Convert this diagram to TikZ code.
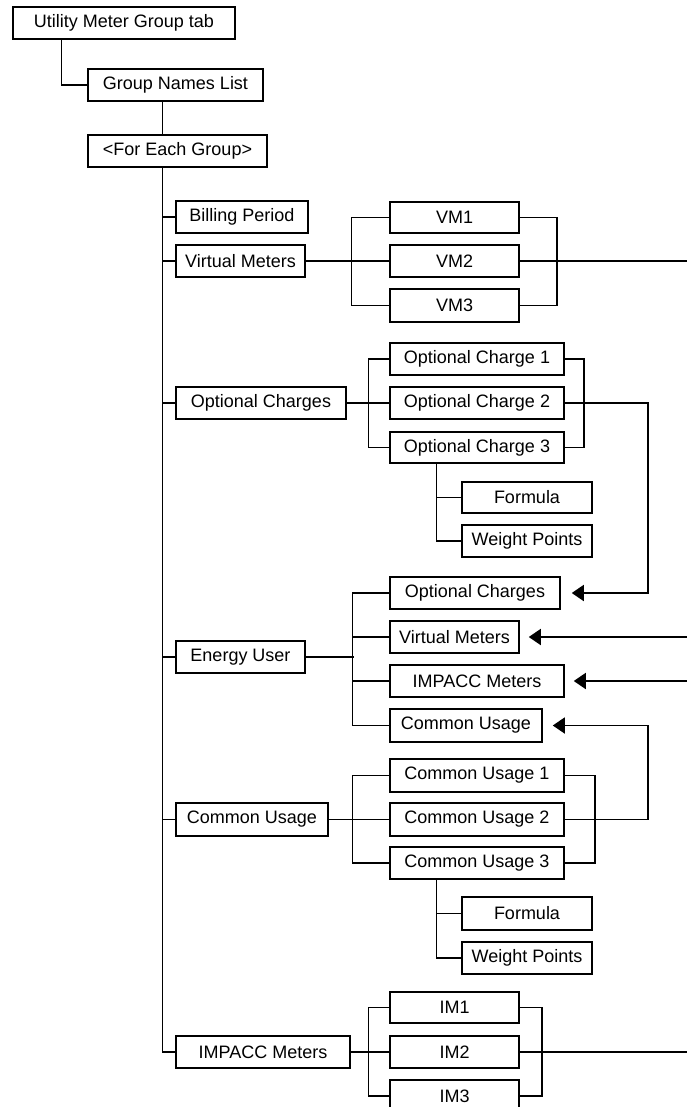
\documentclass[tikz,border=0pt]{standalone}
\usepackage{fontspec}
\setmainfont{Liberation Sans}
\usetikzlibrary{arrows.meta}
\newcommand\bx[6]{\node[box, minimum width={(#4-#2)*1pt}, minimum height={(#5-#3)*1pt}] (#1) at ({(#2+#4)/2},{(#3+#5)/2}) {#6};}
\begin{document}
\begin{tikzpicture}[x=1pt,y=-1pt,
  box/.style={draw, line width=1.5pt, inner sep=0pt, font=\fontsize{18}{21}\selectfont},
  conn/.style={line width=1.5pt},
  arr/.style={line width=1.5pt, -{Triangle[length=12pt,width=16pt]}}]
\useasboundingbox (0,0) rectangle (687,1107);
\clip (0,0) rectangle (687,1107);
\coordinate (edge) at (687,0);
% boxes
\bx{top}{13}{7}{235}{39}{Utility Meter Group tab}
\bx{gnl}{88}{69}{263}{101}{Group Names List}
\bx{feg}{88}{135}{267}{167}{<For Each Group>}
\bx{bp}{176}{201}{308}{233}{Billing Period}
\bx{vm}{176}{245}{305}{277}{Virtual Meters}
\bx{oc}{176}{387}{346}{419}{Optional Charges}
\bx{eu}{176}{641}{305}{673}{Energy User}
\bx{cu}{176}{803}{328}{836}{Common Usage}
\bx{imp}{176}{1036}{350}{1068}{IMPACC Meters}
\bx{vma}{390}{202}{519}{233}{VM1}
\bx{vmb}{390}{245}{519}{277}{VM2}
\bx{vmc}{390}{289}{519}{322}{VM3}
\bx{oca}{390}{343}{564}{375}{Optional Charge 1}
\bx{ocb}{390}{387}{564}{419}{Optional Charge 2}
\bx{occ}{390}{432}{564}{463}{Optional Charge 3}
\bx{fa}{462}{482}{592}{513}{Formula}
\bx{wa}{462}{525}{592}{557}{Weight Points}
\bx{euoc}{390}{577}{560}{609}{Optional Charges}
\bx{euvm}{390}{621}{519}{653}{Virtual Meters}
\bx{euim}{390}{665}{564}{697}{IMPACC Meters}
\bx{eucu}{390}{709}{542}{742}{Common Usage}
\bx{cua}{390}{759}{564}{792}{Common Usage 1}
\bx{cub}{390}{803}{564}{836}{Common Usage 2}
\bx{cuc}{390}{847}{564}{879}{Common Usage 3}
\bx{fb}{462}{897}{592}{930}{Formula}
\bx{wb}{462}{942}{592}{974}{Weight Points}
\bx{ima}{390}{992}{519}{1023}{IM1}
\bx{imb}{390}{1036}{519}{1068}{IM2}
\bx{imc}{390}{1080}{519}{1112}{IM3}
% top connectors
\draw[conn] ([xshift=49pt]top.south west) |- (gnl.west);
\draw[conn] ([xshift=75pt]gnl.south west) -- ([xshift=75pt]feg.north west);
\coordinate (tr) at ([xshift=75pt]feg.south west);
\draw[conn] (tr) |- (imp.west);
\foreach \n in {bp,vm,oc,eu,cu} \draw[conn] (tr |- \n.west) -- (\n.west);
% VM group
\draw[conn] (vm.east) -- (vmb.west);
\draw[conn] (vma.west) -- ++(-38,0) |- (vmc.west);
\draw[conn] (vma.east) -- ++(37,0) |- (vmc.east);
\draw[conn] (vmb.east) -- (vmb.east -| edge);
% OC group
\draw[conn] (oc.east) -- (ocb.west);
\draw[conn] (oca.west) -- ++(-21,0) |- (occ.west);
\draw[conn] (oca.east) -- ++(19,0) |- (occ.east);
\draw[conn] ([xshift=47pt]occ.south west) |- (wa.west);
\draw[conn] ([xshift=47pt]occ.south west |- fa.west) -- (fa.west);
\coordinate (ocx) at (648,0);
\draw[arr, shorten >=11pt] (ocb.east) -| (ocx |- euoc.east) -- (euoc.east);
% EU group
\draw[conn] (eu.east) -- ++(48,0);
\draw[conn] (euoc.west) -- ++(-37,0) |- (eucu.west);
\draw[conn] ([xshift=-37pt]euvm.west) -- (euvm.west);
\draw[conn] ([xshift=-37pt]euim.west) -- (euim.west);
\draw[arr, shorten >=9pt] (euvm.east -| edge) -- (euvm.east);
\draw[arr, shorten >=9pt] (euim.east -| edge) -- (euim.east);
% CU group
\draw[conn] (cu.east) -- (cub.west);
\draw[conn] (cua.west) -- ++(-37,0) |- (cuc.west);
\draw[conn] (cua.east) -- ++(30,0) |- (cuc.east);
\draw[conn] ([xshift=47pt]cuc.south west) |- (wb.west);
\draw[conn] ([xshift=47pt]cuc.south west |- fb.west) -- (fb.west);
\draw[arr, shorten >=10pt] (cub.east) -| (ocx |- eucu.east) -- (eucu.east);
% IM group
\draw[conn] (imp.east) -- (imb.west);
\draw[conn] (ima.west) -- ++(-21,0) |- (imc.west);
\draw[conn] (ima.east) -- ++(22,0) |- (imc.east);
\draw[conn] (imb.east) -- (imb.east -| edge);
\end{tikzpicture}
\end{document}
